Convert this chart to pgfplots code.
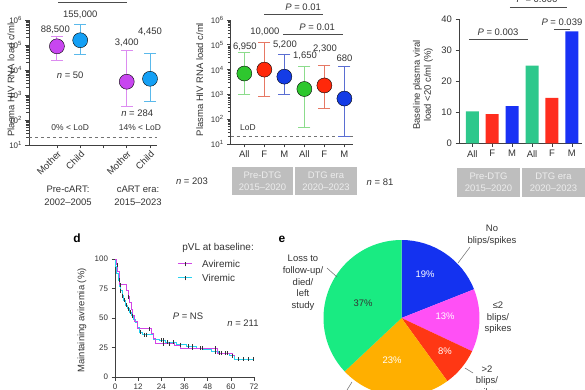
\documentclass[border=0pt]{standalone}
\usepackage{pgfplots}
\pgfplotsset{compat=1.18}
\usepackage{fontspec}
\setmainfont{Liberation Sans}
\definecolor{mom}{HTML}{C846F0}
\definecolor{momE}{HTML}{DC8CF0}
\definecolor{kid}{HTML}{14A0F5}
\definecolor{kidE}{HTML}{5AB9EB}
\definecolor{cAll}{HTML}{2EC72E}
\definecolor{cAllE}{HTML}{8CDC8C}
\definecolor{cF}{HTML}{FF280A}
\definecolor{cFE}{HTML}{E67864}
\definecolor{cM}{HTML}{143CE6}
\definecolor{cME}{HTML}{5A6ED2}
\definecolor{barAll}{HTML}{2EC88C}
\definecolor{barF}{HTML}{FF2D1E}
\definecolor{barM}{HTML}{1932F5}
\definecolor{avi}{HTML}{D246E6}
\definecolor{vir}{HTML}{28D2F0}
\definecolor{pBlue}{HTML}{1432F0}
\definecolor{pMag}{HTML}{FF50F5}
\definecolor{pRed}{HTML}{FF3714}
\definecolor{pOra}{HTML}{FFAF00}
\definecolor{pGre}{HTML}{19EB82}
\definecolor{boxg}{HTML}{BEBEBE}
\definecolor{txt}{HTML}{333333}
\pgfplotsset{
  base/.style={
    scale only axis, anchor=south west, clip=false,
    axis lines=left, axis line style={-, draw=black!75, line width=0.6pt},
    every tick/.style={draw=black!75, line width=0.6pt},
    tick align=outside, major tick length=3.5bp,
    tick label style={font=\fontsize{9.5}{11}\selectfont, text=txt},
    label style={font=\fontsize{9.5}{11}\selectfont, text=txt},
    /pgf/number format/assume math mode=true,
  },
}
\newcommand{\vf}{\fontsize{9.5}{11}\selectfont}
% x, low, high, median, error colour, marker colour
\newcommand{\ebpt}[6]{%
  \addplot[draw=#5, line width=0.9pt, mark=-, mark size=6bp, mark options={solid, draw=#5, line width=0.9pt}] coordinates {(#1,#2) (#1,#3)};
  \addplot[only marks, mark=*, mark size=7.5bp, mark options={draw=none, fill=#6}] coordinates {(#1,#4)};
}
\begin{document}
\begin{tikzpicture}
\path[use as bounding box] (0,0) rectangle (585bp,390bp);
\clip (0,0) rectangle (585bp,390bp);

% ---------------- panel a ----------------
\begin{axis}[base, at={(29bp,245bp)}, width=128bp, height=125bp,
  ymode=log, ymin=10, ymax=1e6,
  ytick={10,100,1000,10000,100000,1000000},
  yticklabels={10\textsuperscript{1},10\textsuperscript{2},10\textsuperscript{3},10\textsuperscript{4},10\textsuperscript{5},10\textsuperscript{6}},
  yticklabel style={font=\fontsize{8}{9}\selectfont},
  xmin=-0.2, xmax=5.3, xtick={1,2,3,4,5}, xticklabels={Mother,Child,,Mother,Child},
  xticklabel style={rotate=45, anchor=north east, inner sep=1pt},
  ylabel={Plasma HIV RNA load c/ml},
  ylabel style={at={(axis description cs:-0.1406,0.52)}, anchor=center}]
\addplot[black!55, dashed, line width=0.6pt] coordinates {(-0.2,20) (5.3,20)};
\ebpt{1}{25000}{210000}{88500}{momE}{mom}
\ebpt{2}{42000}{690000}{155000}{kidE}{kid}
\ebpt{4}{340}{63000}{3400}{momE}{mom}
\ebpt{5}{575}{46000}{4450}{kidE}{kid}
\node[font=\vf, text=txt] at (axis cs:0.93,398000) {88,500};
\node[font=\vf, text=txt] at (axis cs:2,1580000) {155,000};
\node[font=\vf, text=txt] at (axis cs:4,120000) {3,400};
\node[font=\vf, text=txt] at (axis cs:5,330000) {4,450};
\node[font=\vf, text=txt] at (axis cs:1.57,6310) {{\itshape n} = 50};
\node[font=\vf, text=txt] at (axis cs:4.45,190) {{\itshape n} = 284};
\node[font=\fontsize{8.5}{10}\selectfont, text=txt] at (axis cs:1.57,48) {0\% < LoD};
\node[font=\fontsize{8.5}{10}\selectfont, text=txt] at (axis cs:4.57,48) {14\% < LoD};
\end{axis}

% ---------------- panel b ----------------
\begin{axis}[base, at={(230.7bp,246bp)}, width=122.3bp, height=124bp,
  ymode=log, ymin=10, ymax=1e6,
  ytick={10,100,1000,10000,100000,1000000},
  yticklabels={10\textsuperscript{1},10\textsuperscript{2},10\textsuperscript{3},10\textsuperscript{4},10\textsuperscript{5},10\textsuperscript{6}},
  yticklabel style={font=\fontsize{8}{9}\selectfont},
  xmin=0.32, xmax=6.43, xtick={1,2,3,4,5,6}, xticklabels={All,F,M,All,F,M},
  ylabel={Plasma HIV RNA load c/ml},
  ylabel style={at={(axis description cs:-0.2535,0.52)}, anchor=center}]
\addplot[black!55, dashed, line width=0.6pt] coordinates {(0.32,20) (6.43,20)};
\ebpt{1}{1000}{50000}{6950}{cAllE}{cAll}
\ebpt{2}{850}{130000}{10000}{cFE}{cF}
\ebpt{3}{1000}{40000}{5200}{cME}{cM}
\ebpt{4}{45}{14000}{1650}{cAllE}{cAll}
\ebpt{5}{260}{15000}{2300}{cFE}{cF}
\ebpt{6}{20}{14000}{680}{cME}{cM}
\node[font=\vf, text=txt] at (axis cs:1.03,83000) {6,950};
\node[font=\vf, text=txt] at (axis cs:2.03,330000) {10,000};
\node[font=\vf, text=txt] at (axis cs:3.03,100000) {5,200};
\node[font=\vf, text=txt] at (axis cs:4.03,36000) {1,650};
\node[font=\vf, text=txt] at (axis cs:5.03,69000) {2,300};
\node[font=\vf, text=txt] at (axis cs:6,27500) {680};
\node[font=\fontsize{8.5}{10}\selectfont, text=txt, anchor=west] at (axis cs:0.62,44) {LoD};
\draw[black!70, line width=0.6pt] (axis cs:2,1740000) -- (axis cs:4.93,1740000);
\node[font=\vf, text=txt] at (axis cs:3.94,3300000) {{\itshape P} = 0.01};
\draw[black!70, line width=0.6pt] (axis cs:2.94,275000) -- (axis cs:5.93,275000);
\node[font=\vf, text=txt] at (axis cs:4.64,520000) {{\itshape P} = 0.01};
\end{axis}

% ---------------- panel c ----------------
\begin{axis}[base, at={(459bp,246.7bp)}, width=123bp, height=124.3bp,
  ymin=0, ymax=40, ytick={0,10,20,30,40},
  xmin=0.33, xmax=6.51, xtick={1,2,3,4,5,6}, xticklabels={All,F,M,All,F,M},
  ylabel={Baseline plasma viral\\load <20 c/ml (\%)},
  ylabel style={at={(axis description cs:-0.2927,0.47)}, anchor=center, align=center}]
\addplot[ybar, bar width=13bp, bar shift=0pt, fill=barAll, draw=none] coordinates {(1,10.3) (4,25)};
\addplot[ybar, bar width=13bp, bar shift=0pt, fill=barF, draw=none] coordinates {(2,9.4) (5,14.6)};
\addplot[ybar, bar width=13bp, bar shift=0pt, fill=barM, draw=none] coordinates {(3,12) (6,36)};
\draw[black!70, line width=0.6pt] (axis cs:0.83,33.6) -- (axis cs:3.8,33.6);
\node[font=\vf, text=txt] at (axis cs:2.29,35.8) {{\itshape P} = 0.003};
\draw[black!70, line width=0.6pt] (axis cs:2.89,43.9) -- (axis cs:5.75,43.9);
\node[font=\vf, text=txt] at (axis cs:4.25,46.2) {{\itshape P} = 0.006};
\draw[black!70, line width=0.6pt] (axis cs:5.1,36.8) -- (axis cs:5.9,36.8);
\node[font=\vf, text=txt] at (axis cs:5.5,39.0) {{\itshape P} = 0.039};
\end{axis}

% ---------------- panel d ----------------
\begin{axis}[base, at={(115bp,13bp)}, width=139bp, height=118bp,
  xmin=0, xmax=72, ymin=0, ymax=100,
  xtick={0,12,24,36,48,60,72}, ytick={0,25,50,75,100},
  tick label style={font=\fontsize{8}{9}\selectfont},
  ylabel={Maintaining aviremia (\%)},
  ylabel style={at={(axis description cs:-0.2374,0.48)}, anchor=center}]
\addplot[vir, line width=1pt, const plot] coordinates {
 (0,100) (0.5,94) (1,88) (1.6,82) (2.2,77) (3,73) (3.8,69) (4.5,65) (5.5,61) (6.5,58)
 (7.5,55) (8.5,52) (9.5,49) (10.5,46) (11.5,42) (12.5,38) (14,36) (20,32) (23,31)
 (26,29.5) (32,27.5) (37,26) (42,24.5) (46,23) (50,21.5) (53.5,20) (59.5,18) (62,15) (72,15)};
\addplot[avi, line width=1pt, const plot] coordinates {
 (0,100) (0.8,95) (1.5,89) (2.5,78) (6,73) (6.8,68) (7.6,63) (8.4,57) (9.3,52) (10,47)
 (11.5,41) (19,37) (20,33) (21,28) (31,27) (34,24.5) (53,20) (61,18) (62,18)};
\addplot[only marks, mark=|, mark size=2bp, mark options={draw=black!80, line width=0.6pt}] coordinates {
 (2,82) (3,73) (4,69) (5,65) (6,61) (7,58) (8,55) (9,52) (13,38) (15,36) (16,36)
 (24,31) (25,31) (27,29.5) (30,29.5) (34,27.5) (38,26) (40,26) (44,24.5) (52,21.5)
 (55,20) (57,20) (64,15) (66.5,15) (69,15) (71.5,15)
 (1,95) (3,78) (7,68) (18,41) (25,28) (28,28) (40,24.5) (45,24.5) (52,24.5) (54,20) (58,20) (61,18)};
% legend
\draw[avi, line width=1pt] (axis cs:32.6,95.8) -- (axis cs:40,95.8);
\draw[black!80, line width=0.6pt] (axis cs:36.3,93.8) -- (axis cs:36.3,97.8);
\draw[vir, line width=1pt] (axis cs:32.6,83.9) -- (axis cs:40,83.9);
\draw[black!80, line width=0.6pt] (axis cs:36.3,81.9) -- (axis cs:36.3,85.9);
\node[font=\fontsize{10}{12}\selectfont, text=txt, anchor=west, inner sep=0pt] at (axis cs:45,95.8) {Aviremic};
\node[font=\fontsize{10}{12}\selectfont, text=txt, anchor=west, inner sep=0pt] at (axis cs:45,83.9) {Viremic};
\node[font=\fontsize{10}{12}\selectfont, text=txt] at (axis cs:53.4,109.3) {pVL at baseline:};
\node[font=\vf, text=txt] at (axis cs:37.8,51.7) {{\itshape P} = NS};
\node[font=\vf, text=txt] at (axis cs:66.3,45.8) {{\itshape n} = 211};
\end{axis}

% ---------------- panel e (pie) ----------------
\begin{axis}[at={(321.5bp,-8bp)}, anchor=south west, scale only axis, width=160bp, height=160bp,
  xmin=-80, xmax=80, ymin=-80, ymax=80, hide axis, clip=false]
\fill[pBlue] (axis cs:0,0) -- ++(90:78bp) arc[start angle=90, end angle={90-3.6*19}, radius=78bp] -- cycle;
\fill[pMag] (axis cs:0,0) -- ++({90-3.6*19}:78bp) arc[start angle={90-3.6*19}, end angle={90-3.6*32}, radius=78bp] -- cycle;
\fill[pRed] (axis cs:0,0) -- ++({90-3.6*32}:78bp) arc[start angle={90-3.6*32}, end angle={90-3.6*40}, radius=78bp] -- cycle;
\fill[pOra] (axis cs:0,0) -- ++({90-3.6*40}:78bp) arc[start angle={90-3.6*40}, end angle={90-3.6*63}, radius=78bp] -- cycle;
\fill[pGre] (axis cs:0,0) -- ++({90-3.6*63}:78bp) arc[start angle={90-3.6*63}, end angle={90-3.6*100}, radius=78bp] -- cycle;
\node[font=\vf, text=white] at (axis cs:23.5,44) {19\%};
\node[font=\vf, text=white] at (axis cs:43.5,2) {13\%};
\node[font=\vf, text=white] at (axis cs:43.5,-33) {8\%};
\node[font=\vf, text=white] at (axis cs:-9.5,-42) {23\%};
\node[font=\vf, text=black!80] at (axis cs:-38.5,15) {37\%};
\node[font=\fontsize{9.5}{11.7}\selectfont, text=txt, align=center] at (axis cs:90.5,83) {No\\blips/spikes};
\draw[black!60, line width=0.5pt] (axis cs:68.5,71) -- (axis cs:56.5,55);
\node[font=\fontsize{9.5}{11.7}\selectfont, text=txt, align=center] at (axis cs:96.5,0) {≤2\\blips/\\spikes};
\node[font=\fontsize{9.5}{11.7}\selectfont, text=txt, align=center] at (axis cs:-98.5,35) {Loss to\\follow-up/\\died/\\left\\study};
\draw[black!60, line width=0.5pt] (axis cs:-74.5,50) -- (axis cs:-64.5,41);
\node[font=\fontsize{9.5}{11.7}\selectfont, text=txt, align=center, anchor=north] at (axis cs:85.5,-44) {>2\\blips/\\spikes};
\draw[black!60, line width=0.5pt] (axis cs:63.5,-50) -- (axis cs:71.5,-55);
\draw[black!60, line width=0.5pt] (axis cs:-49.5,-64) -- (axis cs:-54.5,-72);
\end{axis}

% ---------------- annotations ----------------
\draw[black!70, line width=0.6pt] (58bp,388bp) -- (127bp,388bp);
\node[font=\fontsize{9.5}{13}\selectfont, text=txt, align=center] at (68bp,194.5bp) {Pre-cART:\\2002--2005};
\node[font=\fontsize{9.5}{13}\selectfont, text=txt, align=center] at (138bp,194.5bp) {cART era:\\2015--2023};
\node[font=\vf, text=txt] at (192bp,209bp) {{\itshape n} = 203};
\node[font=\vf, text=txt] at (380bp,207.3bp) {{\itshape n} = 81};
\fill[boxg] (232bp,195bp) rectangle (293bp,223bp);
\fill[boxg] (295bp,195bp) rectangle (357bp,223bp);
\fill[boxg] (457bp,193bp) rectangle (520bp,222bp);
\fill[boxg] (522bp,193bp) rectangle (585bp,222bp);
\node[font=\fontsize{9.5}{12}\selectfont, text=white!93!black, align=center] at (262.5bp,209bp) {Pre-DTG\\2015--2020};
\node[font=\fontsize{9.5}{12}\selectfont, text=white!93!black, align=center] at (326bp,209bp) {DTG era\\2020--2023};
\node[font=\fontsize{9.5}{12}\selectfont, text=white!93!black, align=center] at (488.5bp,207.5bp) {Pre-DTG\\2015--2020};
\node[font=\fontsize{9.5}{12}\selectfont, text=white!93!black, align=center] at (553.5bp,207.5bp) {DTG era\\2020--2023};
\node[font=\bfseries\fontsize{12}{14}\selectfont] at (77bp,152bp) {d};
\node[font=\bfseries\fontsize{12}{14}\selectfont] at (282bp,151bp) {e};
\end{tikzpicture}
\end{document}
